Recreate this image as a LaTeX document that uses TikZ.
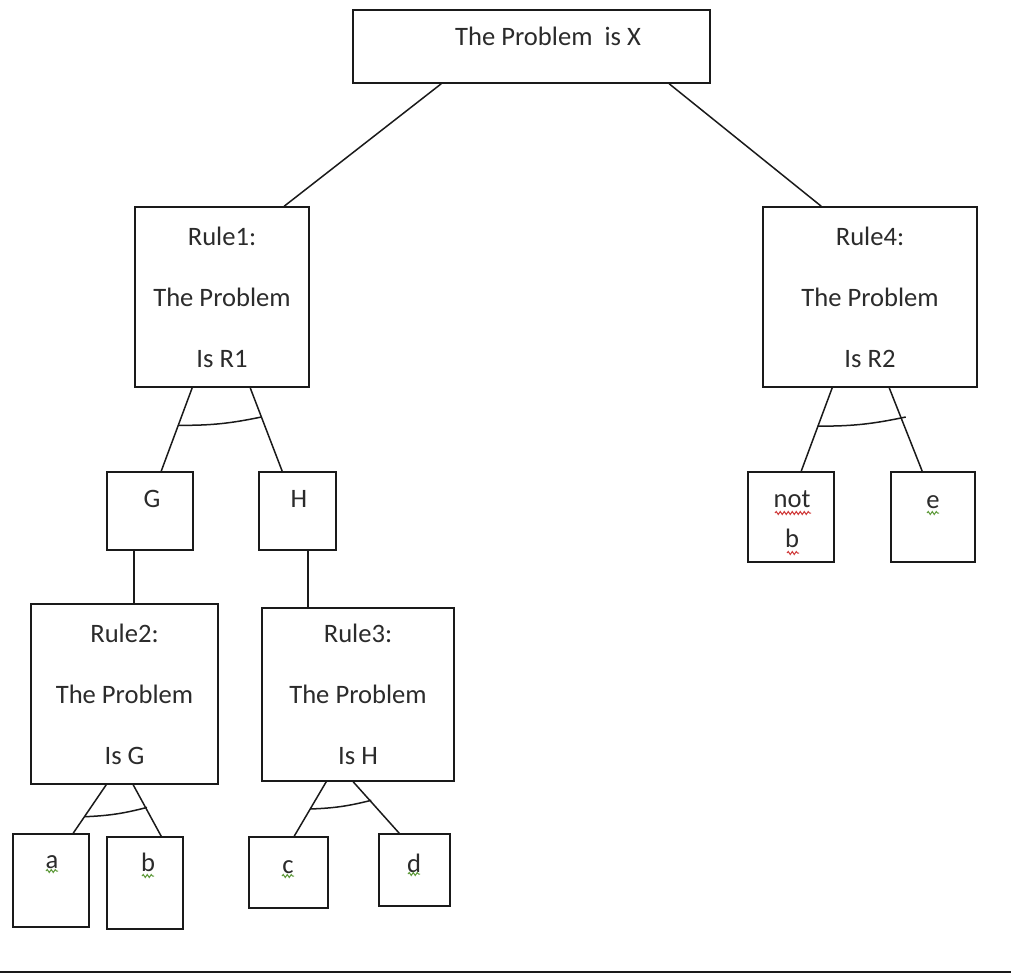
\documentclass[tikz,border=0pt]{standalone}
\usepackage{fontspec}
\setmainfont{Carlito}
\usetikzlibrary{calc,decorations.pathmorphing}
\definecolor{ink}{HTML}{1A1A1A}
\definecolor{txt}{HTML}{2B2B2B}
\definecolor{spellred}{HTML}{D03A3A}
\definecolor{spellgreen}{HTML}{5E9A3A}
\begin{document}
\begin{tikzpicture}[x=1pt,y=-1pt,
  box/.style={draw=ink, line width=1.6pt, inner sep=0pt},
  lbl/.style={text=txt, font=\fontsize{26.6}{30}\selectfont, inner sep=0pt, anchor=base},
  rulebox/.style={box, align=center, text=txt, font=\fontsize{26.6}{61}\selectfont},
  link/.style={draw=ink, line width=1.5pt},
  andarc/.style={draw=ink, line width=1.5pt},
  squig/.style={decorate, decoration={snake, segment length=4pt, amplitude=1.5pt}, line width=1pt},
]
\useasboundingbox (0,0) rectangle (1011,974);

% goal
\node[box, minimum width=357pt, minimum height=73pt] (top) at (531.5,46.5) {};
\node[lbl] (toptext) at (548,46) {The Problem~ is X};

% rules
\node[rulebox, minimum width=174pt, minimum height=180pt] (r1) at (222,297) {Rule1:\\The Problem\\Is R1};
\node[rulebox, minimum width=214pt, minimum height=180pt] (r4) at (870,297) {Rule4:\\The Problem\\Is R2};
\node[rulebox, minimum width=187pt, minimum height=180pt] (r2) at (124.5,694) {Rule2:\\The Problem\\Is G};
\node[rulebox, minimum width=192pt, minimum height=173pt] (r3) at (358,694.5) {Rule3:\\The Problem\\Is H};

% sub-goals
\node[box, minimum width=86pt, minimum height=78pt] (g) at (150,511) {};
\node[lbl] (gt) at (152,507) {G};
\node[box, minimum width=77pt, minimum height=78pt] (h) at (297.5,511) {};
\node[lbl] (ht) at (299,507) {H};

% facts
\node[box, minimum width=76pt, minimum height=93pt] (a) at (51,880.5) {};
\node[lbl] (at) at (52,868) {a};
\node[box, minimum width=76pt, minimum height=92pt] (b) at (145,883) {};
\node[lbl] (bt) at (148,871) {b};
\node[box, minimum width=79pt, minimum height=71pt] (c) at (288.5,872.5) {};
\node[lbl] (ct) at (288,873) {c};
\node[box, minimum width=71pt, minimum height=72pt] (d) at (414.5,870) {};
\node[lbl] (dt) at (414,872) {d};
\node[box, minimum width=86pt, minimum height=90pt] (nb) at (791,517) {};
\node[lbl] (nbt1) at (792,507) {not};
\node[lbl] (nbt2) at (792,547) {b};
\node[box, minimum width=84pt, minimum height=90pt] (e) at (933,517) {};
\node[lbl] (et) at (933,508) {e};

% connectors
\draw[link] ([xshift=89pt]top.south west) -- ([xshift=150pt]r1.north west);
\draw[link] ([xshift=317pt]top.south west) -- ([xshift=59pt]r4.north west);

\coordinate (r1l) at ([xshift=58pt]r1.south west);
\coordinate (r1r) at ([xshift=116pt]r1.south west);
\coordinate (gin) at ([xshift=55pt]g.north west);
\coordinate (hin) at ([xshift=24pt]h.north west);
\draw[link] (r1l) -- (gin);
\draw[link] (r1r) -- (hin);
\draw[andarc] ($(r1l)!0.45!(gin)$) to[bend right=6] ($(r1r)!0.35!(hin)$);

\coordinate (r4l) at ([xshift=70pt]r4.south west);
\coordinate (r4r) at ([xshift=127pt]r4.south west);
\coordinate (nbin) at ([xshift=54pt]nb.north west);
\coordinate (ein) at ([xshift=32pt]e.north west);
\draw[link] (r4l) -- (nbin);
\draw[link] (r4r) -- (ein);
\draw[andarc] ($(r4l)!0.46!(nbin)$) to[bend right=6] ([xshift=5pt]$(r4r)!0.35!(ein)$);

\draw[link] ([xshift=28pt]g.south west) -- ([xshift=104pt]r2.north west);
\draw[link] ([xshift=50pt]h.south west) -- ([xshift=47pt]r3.north west);

\coordinate (r2l) at ([xshift=76pt]r2.south west);
\coordinate (r2r) at ([xshift=103pt]r2.south west);
\coordinate (ain) at ([xshift=61pt]a.north west);
\coordinate (bin) at ([xshift=55pt]b.north west);
\draw[link] (r2l) -- (ain);
\draw[link] (r2r) -- (bin);
\draw[andarc] ($(r2l)!0.66!(ain)$) to[bend right=6] ([xshift=1.5pt]$(r2r)!0.44!(bin)$);

\coordinate (r3l) at ([xshift=65pt]r3.south west);
\coordinate (r3r) at ([xshift=92pt]r3.south west);
\coordinate (cin) at ([xshift=46pt]c.north west);
\coordinate (din) at ([xshift=21pt]d.north west);
\draw[link] (r3l) -- (cin);
\draw[link] (r3r) -- (din);
\draw[andarc] ($(r3l)!0.5!(cin)$) to[bend right=6] ([xshift=1.5pt]$(r3r)!0.36!(din)$);

% spell-check marks
\draw[squig, spellred] (775,513) -- (811,513);
\draw[squig, spellred] (787,553) -- (799,553);
\draw[squig, spellgreen] (927,513) -- (939,513);
\draw[squig, spellgreen] (46,871) -- (58,871);
\draw[squig, spellgreen] (142,876) -- (154,876);
\draw[squig, spellgreen] (282,876) -- (294,876);
\draw[squig, spellgreen] (408,874) -- (420,874);

% page rule
\draw[ink, line width=2pt] (0,972) -- (1011,972);
\end{tikzpicture}
\end{document}
